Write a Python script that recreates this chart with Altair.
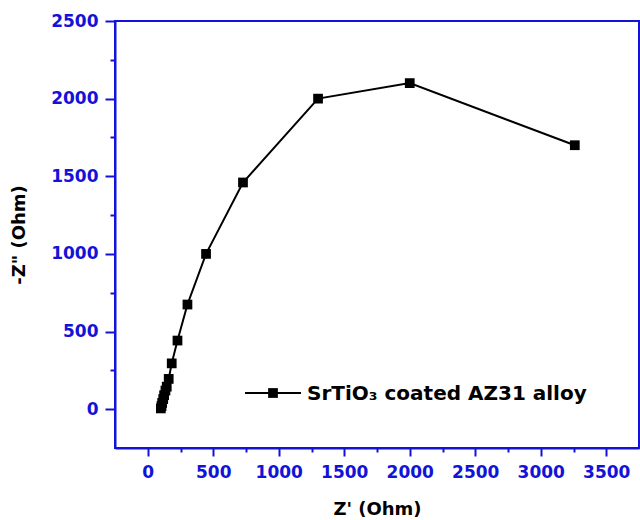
import altair as alt
import pandas as pd

# Nyquist data
z_real = [100, 105, 110, 118, 125, 135, 145, 160, 183, 227, 303, 445, 727, 1300, 2000, 3260]
z_imag = [5, 20, 40, 65, 90, 120, 145, 195, 295, 442, 674, 1000, 1460, 2000, 2100, 1700]

x_tick_values = [0, 250, 500, 750, 1000, 1250, 1500, 1750, 2000, 2250, 2500, 2750, 3000, 3250, 3500]
y_tick_values = [0, 250, 500, 750, 1000, 1250, 1500, 1750, 2000, 2250, 2500]
x_domain = [-250, 3750]
y_domain = [-250, 2500]

legend_label = ["SrTiO\u2083 coated AZ31 alloy"]

BLUE = "#1212d8"
FONT = "DejaVu Sans"

df = pd.DataFrame({"zr": z_real, "zi": z_imag, "i": list(range(len(z_real)))})
leg = pd.DataFrame({"label": legend_label})

major = "datum.value % 500 === 0"

x_axis = alt.Axis(
    values=x_tick_values,
    format="d",
    title="Z' (Ohm)",
    labelExpr=f"{major} ? datum.label : ''",
    tickSize={"condition": {"test": major, "value": 8}, "value": 4},
    labelPadding=8,
    titlePadding=20,
    labelOverlap=False,
    grid=False,
)
y_axis = alt.Axis(
    values=y_tick_values,
    format="d",
    title='-Z" (Ohm)',
    labelExpr=f"{major} ? datum.label : ''",
    tickSize={"condition": {"test": major, "value": 10}, "value": 5},
    labelPadding=7,
    titlePadding=22,
    labelOverlap=False,
    grid=False,
)

x_enc = alt.X("zr:Q", scale=alt.Scale(domain=x_domain, nice=False, zero=False), axis=x_axis)
y_enc = alt.Y("zi:Q", scale=alt.Scale(domain=y_domain, nice=False, zero=False), axis=y_axis)

base = alt.Chart(df)
line = base.mark_line(color="black", strokeWidth=2).encode(x=x_enc, y=y_enc, order="i:Q")
pts = base.mark_point(shape="square", filled=True, color="black", size=95, opacity=1).encode(x=x_enc, y=y_enc)

leg_base = alt.Chart(leg)
leg_line = leg_base.mark_rule(color="black", strokeWidth=2).encode(
    x=alt.value(130), x2=alt.value(186), y=alt.value(372)
)
leg_pt = leg_base.mark_point(shape="square", filled=True, color="black", size=95, opacity=1).encode(
    x=alt.value(158), y=alt.value(372)
)
leg_txt = leg_base.mark_text(
    align="left", baseline="middle", font=FONT, fontSize=20, fontWeight="bold", color="black"
).encode(x=alt.value(192), y=alt.value(373), text="label:N")

chart = (
    alt.layer(line, pts, leg_line, leg_pt, leg_txt)
    .properties(
        width=524,
        height=427,
        autosize=alt.AutoSizeParams(type="none"),
        padding={"left": 115, "top": 21, "right": 1, "bottom": 72},
        background="white",
    )
    .configure_view(stroke=BLUE, strokeWidth=2)
    .configure_axis(
        domainColor=BLUE,
        domainWidth=2,
        tickColor=BLUE,
        tickWidth=2,
        labelColor=BLUE,
        labelFont=FONT,
        labelFontSize=17,
        labelFontWeight="bold",
        titleColor="black",
        titleFont=FONT,
        titleFontSize=18,
        titleFontWeight="bold",
    )
)

chart.save("out.html", embed_options={"renderer": "svg", "actions": False})
